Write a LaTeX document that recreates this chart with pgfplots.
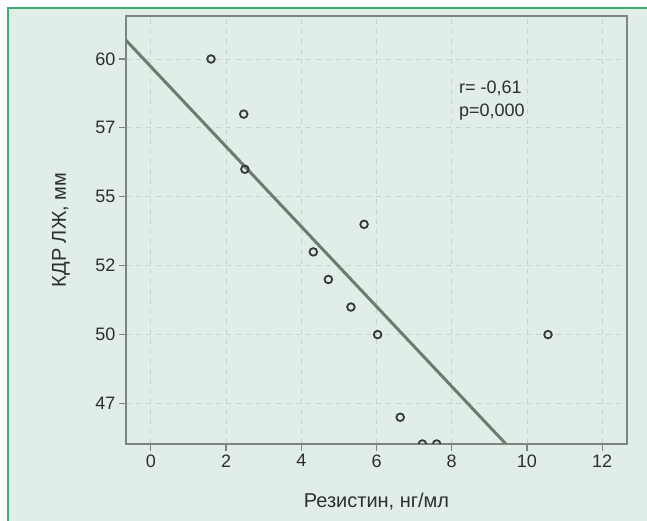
\documentclass[border=0pt]{standalone}
\usepackage{fontspec}
\setmainfont{Liberation Sans}
\usepackage{pgfplots}
\pgfplotsset{compat=1.18}
\definecolor{bg}{HTML}{E0EEE7}
\definecolor{framegreen}{HTML}{3DAE73}
\definecolor{axisgray}{HTML}{7E8580}
\definecolor{gridgray}{HTML}{C6D4CD}
\definecolor{linegray}{HTML}{6F7A73}
\definecolor{markgray}{HTML}{353836}
\definecolor{textgray}{HTML}{2E2E2E}
\begin{document}
\begin{tikzpicture}
\useasboundingbox (0pt,0pt) rectangle (647pt,521pt);
\fill[white] (0pt,0pt) rectangle (647pt,521pt);
\fill[bg] (7pt,0pt) rectangle (647pt,512pt);
\draw[framegreen, line width=2pt] (7.5pt,0pt) -- (7.5pt,512.5pt) -- (647pt,512.5pt);
\begin{axis}[
  at={(126pt,77pt)}, anchor=south west,
  scale only axis, width=501pt, height=428pt,
  xmin=-0.66, xmax=12.66, ymin=46.03, ymax=61.56,
  xtick={0,2,4,6,8,10,12},
  ytick={47.5,50,52.5,55,57.5,60},
  yticklabels={47,50,52,55,57,60},
  xtick pos=left, ytick pos=left,
  tick align=outside, major tick length=7pt,
  axis line style={axisgray, line width=1.5pt},
  tick style={axisgray, line width=1.2pt},
  grid=major,
  major grid style={gridgray, dash pattern=on 5pt off 5pt, line width=0.8pt},
  /pgf/number format/assume math mode=true,
  tick label style={font=\fontsize{18}{20}\selectfont, text=textgray},
  label style={font=\fontsize{20}{24}\selectfont, text=textgray},
  xlabel={Резистин, нг/мл},
  ylabel={КДР ЛЖ, мм},
  xlabel style={at={(axis description cs:0.5,-0.1495)}, anchor=base},
  ylabel style={at={(axis description cs:-0.1198,0.5)}, anchor=base},
  axis background/.style={fill=bg},
  clip marker paths=true,
]
\addplot[linegray, line width=3pt] coordinates {(-0.66,60.68) (9.44,46.03)};
\addplot[only marks, mark=o, mark size=3.8pt, mark options={markgray, line width=1.8pt}]
  coordinates {
  (1.60,60) (2.47,58) (2.50,56) (4.32,53) (4.72,52) (5.67,54)
  (5.32,51) (6.03,50) (6.63,47) (7.22,46.03) (7.60,46.03) (10.56,50)
  };
\node[anchor=west, align=left, font=\fontsize{18}{23}\selectfont, text=textgray]
  at (axis cs:8.1,58.5) {r= -0,61\\p=0,000};
\end{axis}
\end{tikzpicture}
\end{document}
